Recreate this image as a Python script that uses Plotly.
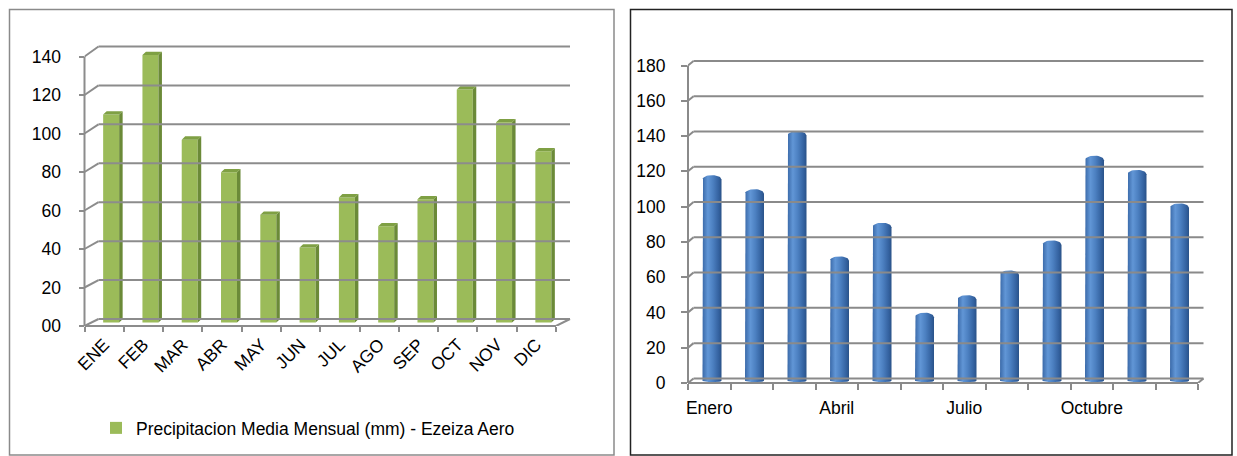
import numpy as np
import plotly.graph_objects as go

W, H = 1237, 456
FONT = "Liberation Sans, Arial, sans-serif"
FS = 17.5

# ---------------- data ----------------
meses_abrev = ["ENE", "FEB", "MAR", "ABR", "MAY", "JUN", "JUL", "AGO", "SEP", "OCT", "NOV", "DIC"]
precip_ezeiza = [108, 139, 95, 78, 56, 39, 65, 50, 64, 121, 104, 89]
nombre_serie = "Precipitacion Media Mensual (mm) - Ezeiza Aero"
ticks_izq = [0, 20, 40, 60, 80, 100, 120, 140]
ticks_izq_txt = ["00", "20", "40", "60", "80", "100", "120", "140"]

meses = ["Enero", "Febrero", "Marzo", "Abril", "Mayo", "Junio", "Julio", "Agosto",
         "Septiembre", "Octubre", "Noviembre", "Diciembre"]
precip_der = [114, 106, 139, 68, 87, 36, 46, 60, 77, 125, 117, 98]
ticks_der = [0, 20, 40, 60, 80, 100, 120, 140, 160, 180]
meses_rotulados = meses[::3]

# ---------------- geometry (pixels) ----------------
GL = dict(x0=84.5, x1=556.0, y0=326.0, ytop=56.5, vtop=140, dx=14.0, dy0=7.0, dy1=10.0, top_px=38)
GR = dict(x0=688.0, x1=1198.0, y0=383.0, ytop=65.5, vtop=180, dx=5.5, dy0=4.6, dy1=4.5, top_px=54)
GRID_L = "#8c8c8c"
GRID_R = "#8a8a8a"


def setup(g, n):
    catw = (g["x1"] - g["x0"]) / n
    scale = (g["y0"] - g["ytop"]) / g["vtop"]
    right_px = g["x1"] + g["dx"] + 3
    xdom = [g["x0"] / W, right_px / W]
    ydom = [1 - g["y0"] / H, 1 - g["top_px"] / H]
    xr = [-0.5, -0.5 + (right_px - g["x0"]) / catw]
    yr = [0, (g["y0"] - g["top_px"]) / scale]
    return catw, scale, xdom, ydom, xr, yr


def wall_shapes(xa, ya, ticks, n, catw, scale, g, color):
    shapes = []
    ddx = g["dx"] / catw
    ln = dict(color=color, width=2)
    for v in ticks:
        frac = v / g["vtop"]
        ddy = (g["dy0"] + (g["dy1"] - g["dy0"]) * frac) / scale
        shapes.append(dict(type="line", xref=xa, yref=ya, x0=-0.5, y0=v, x1=-0.5 + ddx, y1=v + ddy, line=ln))
        shapes.append(dict(type="line", xref=xa, yref=ya, x0=-0.5 + ddx, y0=v + ddy,
                           x1=n - 0.5 + ddx, y1=v + ddy, line=ln))
    ddy0 = g["dy0"] / scale
    shapes.append(dict(type="line", xref=xa, yref=ya, x0=n - 0.5, y0=0, x1=n - 0.5 + ddx, y1=ddy0, line=ln))
    shapes.append(dict(type="line", xref=xa, yref=ya + " domain", x0=-0.5, y0=0, x1=n - 0.5, y1=0, line=ln))
    shapes.append(dict(type="line", xref=xa + " domain", yref=ya, x0=0, y0=0, x1=0, y1=g["vtop"], line=ln))
    return shapes


fig = go.Figure()
n = len(meses_abrev)

# ---------------- left chart ----------------
catwL, scaleL, xdomL, ydomL, xrL, yrL = setup(GL, n)
shiftL = GL["dx"] / 2 / catwL
baseL = GL["dy0"] / 2 / scaleL
bwL = 16 / catwL
swL = 3.5 / catwL
thL = 3.3 / scaleL
xsL = [i + shiftL for i in range(n)]

fig.add_trace(go.Bar(x=xsL, y=precip_ezeiza, base=baseL, width=bwL, name=nombre_serie,
                     marker=dict(color="#9BBB59", line=dict(width=0)),
                     xaxis="x", yaxis="y", showlegend=True, hoverinfo="skip"))

side_x, side_y, top_x, top_y = [], [], [], []
for xc, v in zip(xsL, precip_ezeiza):
    xl, xr_ = xc - bwL / 2, xc + bwL / 2
    t = baseL + v
    side_x += [xr_, xr_, xr_ + swL, xr_ + swL, xr_, None]
    side_y += [baseL, t, t + thL, baseL + thL, baseL, None]
    top_x += [xl, xr_, xr_ + swL, xl + swL, xl, None]
    top_y += [t, t, t + thL, t + thL, t, None]
fig.add_trace(go.Scatter(x=side_x, y=side_y, fill="toself", fillcolor="#6B8A38", mode="lines",
                         line=dict(width=0, color="#6B8A38"), xaxis="x", yaxis="y",
                         showlegend=False, hoverinfo="skip"))
fig.add_trace(go.Scatter(x=top_x, y=top_y, fill="toself", fillcolor="#7FA044", mode="lines",
                         line=dict(width=0, color="#7FA044"), xaxis="x", yaxis="y",
                         showlegend=False, hoverinfo="skip"))

# ---------------- right chart ----------------
nR = len(meses)
catwR, scaleR, xdomR, ydomR, xrR, yrR = setup(GR, nR)
shiftR = GR["dx"] / 2 / catwR
baseR = GR["dy0"] / 2 / scaleR
rx = 9.5 / catwR
ry_top = 4.5 / scaleR
ry_bot = 1.5 / scaleR
cyl_scale = [[0.0, "#3A69A8"], [0.28, "#6196D6"], [0.55, "#4C80C1"], [0.85, "#3462A0"], [1.0, "#2A5288"]]
ang_top = np.linspace(np.pi, 0, 20)
ang_bot = np.linspace(0, -np.pi, 14)
for i, v in enumerate(precip_der):
    cx = i + shiftR
    t = baseR + v
    px = [cx - rx, cx - rx] + list(cx + rx * np.cos(ang_top)) + [cx + rx] + list(cx + rx * np.cos(ang_bot))
    py = [baseR, t] + list(t + ry_top * np.sin(ang_top)) + [baseR] + list(baseR + ry_bot * np.sin(ang_bot))
    fig.add_trace(go.Scatter(x=px, y=py, fill="toself", mode="lines", line=dict(width=0, color="#3A69A8"),
                             fillgradient=dict(type="horizontal", colorscale=cyl_scale,
                                               start=cx - rx, stop=cx + rx),
                             xaxis="x2", yaxis="y2", showlegend=False, hoverinfo="skip"))

shapes = []
shapes += wall_shapes("x", "y", ticks_izq, n, catwL, scaleL, GL, GRID_L)
shapes += wall_shapes("x2", "y2", ticks_der, nR, catwR, scaleR, GR, GRID_R)
shapes.append(dict(type="rect", xref="paper", yref="paper", x0=9.5 / W, x1=614 / W,
                   y0=1 - 455 / H, y1=1 - 9.5 / H, line=dict(color="#8a8a8a", width=1.5), layer="below"))
shapes.append(dict(type="rect", xref="paper", yref="paper", x0=630.5 / W, x1=1232 / W,
                   y0=1 - 455 / H, y1=1 - 9.5 / H, line=dict(color="#222222", width=1.5), layer="below"))

tickfont = dict(family=FONT, size=FS, color="#000000")

fig.update_layout(
    template="none",
    width=W, height=H, margin=dict(l=0, r=0, t=0, b=0, pad=0, autoexpand=False),
    paper_bgcolor="white", plot_bgcolor="rgba(0,0,0,0)",
    barmode="overlay", shapes=shapes,
    font=dict(family=FONT, size=FS, color="#000000"),
    xaxis=dict(domain=xdomL, range=xrL, anchor="y", showgrid=False, zeroline=False, showline=False,
               automargin=False,
               tickmode="array", tickvals=list(range(n)), ticktext=meses_abrev, tickangle=-45,
               ticks="", tickfont=tickfont, ticklabelstandoff=4,
               minor=dict(tickmode="array", tickvals=[i - 0.5 for i in range(n + 1)], ticks="outside",
                          ticklen=5, tickwidth=2, tickcolor=GRID_L, showgrid=False)),
    yaxis=dict(domain=ydomL, range=yrL, anchor="x", showgrid=False, zeroline=False, showline=False,
               automargin=False,
               tickmode="array", tickvals=ticks_izq, ticktext=ticks_izq_txt, ticks="outside",
               ticklen=5, tickwidth=2, tickcolor=GRID_L, tickfont=tickfont, ticklabelstandoff=14),
    xaxis2=dict(domain=xdomR, range=xrR, anchor="y2", showgrid=False, zeroline=False, showline=False,
                automargin=False,
                tickmode="array", tickvals=[meses.index(m) for m in meses_rotulados], ticktext=meses_rotulados,
                ticks="", tickfont=tickfont, ticklabelstandoff=12,
                minor=dict(tickmode="array", tickvals=[i - 0.5 for i in range(nR + 1)], ticks="outside",
                           ticklen=6, tickwidth=2, tickcolor=GRID_R, showgrid=False)),
    yaxis2=dict(domain=ydomR, range=yrR, anchor="x2", showgrid=False, zeroline=False, showline=False,
                automargin=False,
                tickmode="array", tickvals=ticks_der, ticks="outside",
                ticklen=6, tickwidth=2, tickcolor=GRID_R, tickfont=tickfont, ticklabelstandoff=12),
    legend=dict(orientation="h", x=96 / W, y=1 - 428 / H, xanchor="left", yanchor="middle",
                font=dict(family=FONT, size=FS, color="#000000"), bgcolor="rgba(0,0,0,0)"),
    showlegend=True,
)

fig.write_html("out.html", config={"displayModeBar": False, "staticPlot": True},
               post_script="document.body.style.margin='0';document.body.style.overflow='hidden';")
